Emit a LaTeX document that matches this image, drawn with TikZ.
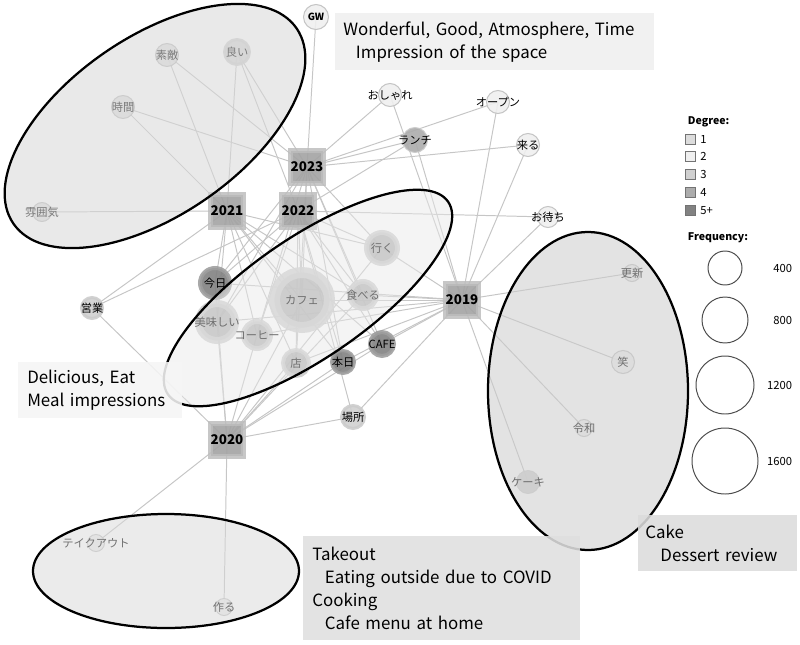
\documentclass[tikz,border=0pt]{standalone}
\usepackage{fontspec}
\usepackage{tikz}
\newfontfamily\jp{Noto Sans CJK JP}

\definecolor{dgone}{HTML}{DCDCDC}
\definecolor{dgtwo}{HTML}{EFEFEF}
\definecolor{dgthree}{HTML}{D0D0D0}
\definecolor{dgfour}{HTML}{ACACAC}
\definecolor{dgfive}{HTML}{828282}
\definecolor{linkgray}{HTML}{C6C6C6}
\definecolor{boxa}{HTML}{EFEFEF}
\definecolor{boxb}{HTML}{F5F5F5}
\definecolor{boxc}{HTML}{DFDFDF}
\definecolor{boxd}{HTML}{DCDCDC}

\pgfdeclarelayer{links}
\pgfsetlayers{links,main}

% label of zero width, so that the circle keeps its own size
\newcommand{\wl}[1]{\makebox[0pt]{#1}}

\tikzset{
  word/.style={circle, inner sep=0pt, font=\jp\fontsize{8}{8.5}\selectfont,
    fill opacity=0.9, draw opacity=0.9, text opacity=1},
  sz/.style 2 args={minimum size={(#1+#2)*0.025cm}, line width={(#1-#2)*0.025cm}},
  d1/.style={fill=dgone, draw=black!28},
  d2/.style={fill=dgtwo, draw=black!25},
  d3/.style={fill=dgthree, draw=black!20},
  d4/.style={fill=dgfour, draw=black!20},
  d5/.style={fill=dgfive, draw=black!38},
  year/.style={rectangle, minimum size=0.82cm, inner sep=0pt, fill=black!36,
    draw=black!26, line width=4pt, fill opacity=0.9, draw opacity=0.85, text opacity=1,
    font=\jp\bfseries\fontsize{9.5}{10}\selectfont},
  link/.style={draw=linkgray, line width=0.7pt},
  cluster/.style n args={2}{draw=black, line width=1.6pt, fill=black!#1, fill opacity=#2, draw opacity=1},
  note/.style={anchor=north west, align=left, inner ysep=0pt, fill opacity=0.88, text opacity=1,
    font=\jp\fontsize{12}{16.5}\selectfont},
  legsq/.style={rectangle, minimum size=0.25cm, inner sep=0pt, draw=black!55, line width=0.5pt},
  legtitle/.style={anchor=west, font=\jp\bfseries\fontsize{7.5}{8}\selectfont},
  legtext/.style={font=\jp\fontsize{8}{9}\selectfont},
  legcirc/.style={draw=black!70, line width=0.7pt}
}

\begin{document}
\begin{tikzpicture}[x=0.025cm, y=-0.025cm]
\useasboundingbox (0,0) rectangle (800,644);

% year hubs
\node[year] (y23) at (307,167) {2023};
\node[year] (y21) at (227,211) {2021};
\node[year] (y22) at (298,211) {2022};
\node[year] (y19) at (462,300) {2019};
\node[year] (y20) at (227,440) {2020};

% words
\node[word, d2, sz={13}{12}, font=\jp\bfseries\fontsize{7}{8}\selectfont] (gw) at (316,17) {\wl{GW}};
\node[word, d1, sz={12}{11}] (suteki) at (167,55) {\wl{素敵}};
\node[word, d3, sz={14}{11}] (yoi) at (237,52) {\wl{良い}};
\node[word, d1, sz={12}{11}] (jikan) at (123,107) {\wl{時間}};
\node[word, d1, sz={10}{9}] (fun) at (42,212) {\wl{雰囲気}};
\node[word, d2, sz={12}{11}] (oshare) at (390,95) {\wl{おしゃれ}};
\node[word, d2, sz={12}{11}] (open) at (498,102) {\wl{オープン}};
\node[word, d4, sz={13}{12}] (lunch) at (415,140) {\wl{ランチ}};
\node[word, d2, sz={12}{11}] (kuru) at (528,145) {\wl{来る}};
\node[word, d2, sz={11}{10}] (omachi) at (548,217) {\wl{お待ち}};
\node[word, d5, sz={17}{13}] (kyou) at (215,283) {\wl{今日}};
\node[word, d4, sz={22}{15}] (oishii) at (217,322) {\wl{美味しい}};
\node[word, d4, sz={16}{11}] (coffee) at (257,335) {\wl{コーヒー}};
\node[word, d4, sz={33}{22}] (cafe) at (302,300) {\wl{カフェ}};
\node[word, d4, sz={18}{13}] (iku) at (382,248) {\wl{行く}};
\node[word, d4, sz={16}{11}] (taberu) at (363,295) {\wl{食べる}};
\node[word, d4, sz={15}{11}] (mise) at (296,363) {\wl{店}};
\node[word, d5, sz={13}{10}] (honjitsu) at (343,362) {\wl{本日}};
\node[word, d5, sz={14}{10}] (cafeen) at (382,344) {\wl{CAFE}};
\node[word, d3, sz={13}{10}] (basho) at (353,417) {\wl{場所}};
\node[word, d3, sz={12}{9}] (eigyo) at (92,308) {\wl{営業}};
\node[word, d2, sz={9}{8}] (koshin) at (632,273) {\wl{更新}};
\node[word, d2, sz={12}{11}] (warai) at (623,362) {\wl{笑}};
\node[word, d2, sz={9}{8}] (reiwa) at (584,428) {\wl{令和}};
\node[word, d3, sz={12}{11}] (cake) at (528,482) {\wl{ケーキ}};
\node[word, d2, sz={9}{8}] (takeout) at (96,543) {\wl{テイクアウト}};
\node[word, d2, sz={9}{8}] (tsukuru) at (224,607) {\wl{作る}};

% co-occurrence links
\begin{pgfonlayer}{links}
\foreach \h in {y19,y20,y21,y22,y23}
  \foreach \w in {kyou,oishii,coffee,cafe,iku,taberu,mise,honjitsu,cafeen}
    \draw[link] (\h.center) -- (\w.center);
\foreach \a/\b in {y23/gw,y23/suteki,y23/yoi,y23/jikan,y23/oshare,y23/open,y23/lunch,y23/kuru,
    y21/fun,y21/jikan,y21/suteki,y21/yoi,y21/eigyo,
    y22/yoi,y22/eigyo,y22/omachi,y22/lunch,y22/basho,
    y19/oshare,y19/open,y19/lunch,y19/kuru,y19/omachi,y19/koshin,y19/warai,y19/reiwa,y19/cake,y19/basho,
    y20/eigyo,y20/takeout,y20/tsukuru,y20/basho}
  \draw[link] (\a.center) -- (\b.center);
\end{pgfonlayer}

% clusters
\draw[cluster={15}{0.57}, rotate around={34.6:(155,126)}] (155,126) ellipse [x radius=172, y radius=89];
\draw[cluster={9}{0.48}, rotate around={34.5:(308,298)}] (308,298) ellipse [x radius=170, y radius=60];
\draw[cluster={20}{0.54}] (588,391) ellipse [x radius=100, y radius=159];
\draw[cluster={15}{0.52}] (166,571) ellipse [x radius=133, y radius=57];

% notes
\node[note, fill=boxa, inner xsep=0.2cm, text width=7.575cm, minimum height=1.425cm] (spacenote) at (335,13)
  {Wonderful, Good, Atmosphere, Time\\\hspace*{0.75em}Impression of the space};
\node[note, fill=boxb, inner xsep=0.225cm, text width=3.65cm, minimum height=1.4cm] (mealnote) at (18,362)
  {Delicious, Eat\\Meal impressions};
\node[note, fill=boxc, inner xsep=0.225cm, text width=6.475cm, minimum height=2.6cm] (homenote) at (303,536)
  {Takeout\\\hspace*{0.75em}Eating outside due to COVID\\Cooking\\\hspace*{0.75em}Cafe menu at home};
\node[note, fill=boxd, inner xsep=0.175cm, text width=3.625cm, minimum height=1.4cm] (cakenote) at (638,515)
  {Cake\\\hspace*{0.9em}Dessert review};

% legend
\node[legtitle] (degtitle) at (683,122) {Degree:};
\foreach \c/\l [count=\i] in {dgone/1,dgtwo/2,dgthree/3,dgfour/4,dgfive/5+} {
  \node[legsq, fill=\c] (sq\i) at (690,121.2+17.8*\i) {};
  \node[legtext, anchor=west] (sql\i) at (sq\i.east) {\l};
}
\node[legtitle] (freqtitle) at (683,238) {Frequency:};
\foreach \f/\y/\r in {400/268/17,800/320/23,1200/385/29,1600/461/33} {
  \draw[legcirc] (725,\y) circle [radius=\r];
  \node[legtext, anchor=east] (fl\f) at (797,\y) {\f};
}
\end{tikzpicture}
\end{document}
